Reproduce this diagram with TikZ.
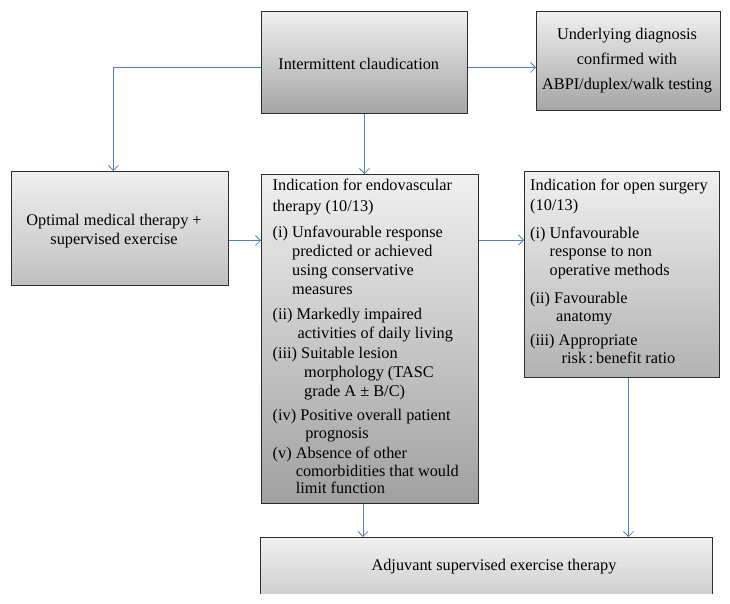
\documentclass[tikz,border=0pt]{standalone}
\usepackage{fontspec}
\setmainfont{Liberation Serif}
\usetikzlibrary{arrows.meta}
\definecolor{arrowblue}{RGB}{79,129,189}
\definecolor{edgegray}{RGB}{45,45,45}
\definecolor{toplight}{RGB}{240,240,240}
\definecolor{botA}{RGB}{165,165,165}
\definecolor{botB}{RGB}{192,192,192}
\definecolor{botC}{RGB}{160,160,160}
\definecolor{botD}{RGB}{178,178,178}
\definecolor{botE}{RGB}{208,208,208}
\newcommand\hind[2][0pt]{\hphantom{#2\ }\hspace*{#1}}
\begin{document}
\begin{tikzpicture}[x=1pt,y=-1pt,
  box/.style={draw=edgegray, line width=0.9pt, inner sep=0pt, anchor=north west, top color=toplight},
  txt/.style={inner sep=0pt, font=\fontsize{16.3}{18.6}\selectfont},
  arr/.style={draw=arrowblue, line width=0.8pt, -{Straight Barb[length=5pt,width=10pt]}}]
\useasboundingbox (0,0) rectangle (730,604);

% boxes
\node[box, minimum width=206pt, minimum height=102pt, bottom color=botA] (ic) at (261,11) {};
\node[box, minimum width=184pt, minimum height=99pt, bottom color=botA] (ud) at (536,11) {};
\node[box, minimum width=217pt, minimum height=114pt, bottom color=botB] (om) at (11,171) {};
\node[box, minimum width=217pt, minimum height=329pt, bottom color=botC] (ev) at (261,174) {};
\node[box, minimum width=195pt, minimum height=206pt, bottom color=botD] (os) at (524,171) {};
\node[box, draw=none, minimum width=452pt, minimum height=56pt, bottom color=botE] (as) at (260,537) {};
\draw[draw=edgegray, line width=0.9pt] (as.south west) -- (as.north west) -- (as.north east) -- (as.south east);

% texts
\node[txt, anchor=base] (ict) at (358.7,70) {Intermittent claudication};
\node[txt, anchor=north, align=center] (udt) at (627,26.5) {\strut Underlying diagnosis\\[6.4pt]
confirmed with\\[6.4pt]
ABPI/duplex/walk testing};
\node[txt, anchor=north, align=center] (omt) at (114,212) {\strut Optimal medical therapy +\\[0.7pt]
supervised exercise};
\node[txt, anchor=north west, align=left] (evt) at (272.5,177.7) {\strut Indication for endovascular\\[1.7pt]
therapy (10/13)\\[7.9pt]
(i) Unfavourable response\\[0.4pt]
\hind{(i)}predicted or achieved\\[0.4pt]
\hind{(i)}using conservative\\[0.4pt]
\hind{(i)}measures\\[5.9pt]
(ii) Markedly impaired\\[0.4pt]
\hind[1pt]{(ii)}activities of daily living\\[1.4pt]
(iii) Suitable lesion\\[0.4pt]
\hind[3pt]{(iii)}morphology (TASC\\[0.4pt]
\hind[3pt]{(iii)}grade A ± B/C)\\[5.9pt]
(iv) Positive overall patient\\[-1.1pt]
\hind[5pt]{(iv)}prognosis\\[1.7pt]
(v) Absence of other\\[-1pt]
\hind{(v)}comorbidities that would\\[-1pt]
\hind{(v)}limit function};
\node[txt, anchor=north west, align=left] (ost) at (530,177) {\strut Indication for open surgery\\[1.9pt]
(10/13)\\[8.9pt]
(i) Unfavourable\\[-0.1pt]
\hind{(i)}response to non\\[-0.1pt]
\hind{(i)}operative methods\\[9.9pt]
(ii) Favourable\\[-1.1pt]
\hind[2pt]{(ii)}anatomy\\[5.9pt]
(iii) Appropriate\\[-0.6pt]
\hind[3pt]{(iii)}risk\,:\,benefit ratio};
\node[txt, anchor=base] (ast) at (494,570) {Adjuvant supervised exercise therapy};

% connectors
\draw[arr] ([yshift=-5pt]ic.west) -| ([xshift=-6.5pt]om.north);
\draw[arr] ([yshift=-5pt]ic.east) -- ([yshift=-5pt]ic.east -| ud.west);
\draw[arr] (ic.south) -- (ic.south |- ev.north);
\draw[arr] ([yshift=-12pt]om.east) -- ([yshift=-12pt]om.east -| ev.west);
\draw[arr] ([yshift=-66pt]ev.north east) -- ([yshift=-66pt]ev.north east -| os.west);
\draw[arr] ([xshift=-7pt]ev.south) -- ([xshift=-7pt]ev.south |- as.north);
\draw[arr] ([xshift=6.5pt]os.south) -- ([xshift=6.5pt]os.south |- as.north);
\end{tikzpicture}
\end{document}
